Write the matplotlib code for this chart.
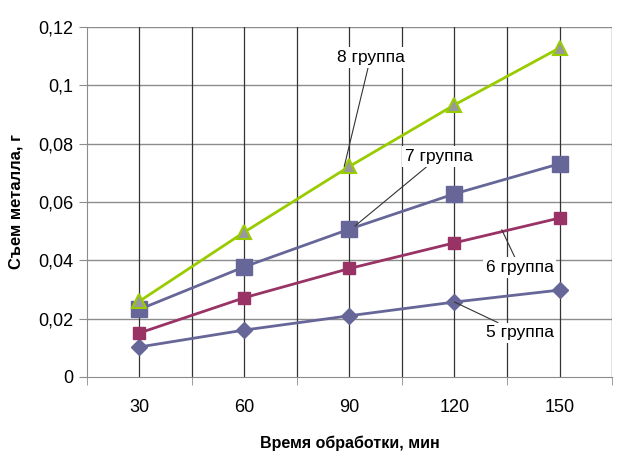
import matplotlib.pyplot as plt
import numpy as np

plt.rcParams['font.family'] = ['Liberation Sans', 'DejaVu Sans']

# Data
times = ['30', '60', '90', '120', '150']
group5 = [0.0103, 0.0161, 0.0210, 0.0257, 0.0298]
group6 = [0.0151, 0.0272, 0.0372, 0.0460, 0.0545]
group7 = [0.0232, 0.0378, 0.0507, 0.0628, 0.0731]
group8 = [0.0260, 0.0497, 0.0722, 0.0933, 0.1128]
yticks = [0, 0.02, 0.04, 0.06, 0.08, 0.1, 0.12]
ytick_labels = ['0', '0,02', '0,04', '0,06', '0,08', '0,1', '0,12']

x = np.arange(len(times))

fig = plt.figure(figsize=(6.2, 4.62), dpi=100)
ax = fig.add_axes([0.1403, 0.184, 0.8468, 0.7576])

# grid
for v in yticks[1:]:
    ax.axhline(v, color='#8c8c8c', lw=1.0, zorder=1)
for k in np.arange(0.0, 4.01, 0.5):
    ax.axvline(k, color='#333333', lw=0.9, zorder=1)
ax.axvline(4.5, color='#333333', lw=0.9, zorder=1)

ax.plot(x, group5, color='#666699', lw=2, marker='D', ms=8,
        mfc='#666699', mec='#666699', zorder=3)
ax.plot(x, group6, color='#993366', lw=2, marker='s', ms=9,
        mfc='#993366', mec='#993366', zorder=3)
ax.plot(x, group7, color='#666699', lw=2, marker='s', ms=12,
        mfc='#666699', mec='#666699', zorder=3)
ax.plot(x, group8, color='#99cc00', lw=2, marker='^', ms=10,
        mfc='#999999', mec='#99cc00', mew=1.5, zorder=4)

ax.set_xlim(-0.5, 4.5)
ax.set_ylim(0, 0.12)
ax.set_xticks(x)
ax.set_xticklabels(times)
ax.set_xticks(np.arange(-0.5, 4.6, 1.0), minor=True)
ax.tick_params(axis='x', which='major', length=0, pad=16, labelsize=13)
ax.tick_params(axis='x', which='minor', length=6, color='#8c8c8c')
ax.set_yticks(yticks)
ax.set_yticklabels(ytick_labels)
ax.tick_params(axis='y', length=6, color='#8c8c8c', labelsize=13, pad=4)

for s in ['top', 'right']:
    ax.spines[s].set_visible(False)
ax.spines['left'].set_color('#8c8c8c')
ax.spines['bottom'].set_color('#8c8c8c')

ax.set_xlabel('Время обработки, мин', fontsize=11.5, fontweight='bold', labelpad=14)
ax.set_ylabel('Съем металла, г', fontsize=12, fontweight='bold', labelpad=10)

box = dict(facecolor='white', edgecolor='none', pad=2)
arrow = dict(arrowstyle='-', color='#333333', lw=0.8, shrinkA=0, shrinkB=0)
ax.annotate('8 группа', xy=(1.95, group8[2]), xytext=(2.2, 0.1095),
            fontsize=12.5, ha='center', va='center', bbox=box,
            arrowprops=arrow, zorder=6)
ax.annotate('7 группа', xy=(2.05, group7[2] + 0.001), xytext=(2.85, 0.0755),
            fontsize=12.5, ha='center', va='center', bbox=box,
            arrowprops=arrow, zorder=6)
ax.annotate('6 группа', xy=(3.45, 0.0505), xytext=(3.62, 0.0376),
            fontsize=12.5, ha='center', va='center', bbox=box,
            arrowprops=arrow, zorder=6)
ax.annotate('5 группа', xy=(3.0, group5[3]), xytext=(3.62, 0.0151),
            fontsize=12.5, ha='center', va='center', bbox=box,
            arrowprops=arrow, zorder=6)

fig.savefig('out.png', dpi=100)
